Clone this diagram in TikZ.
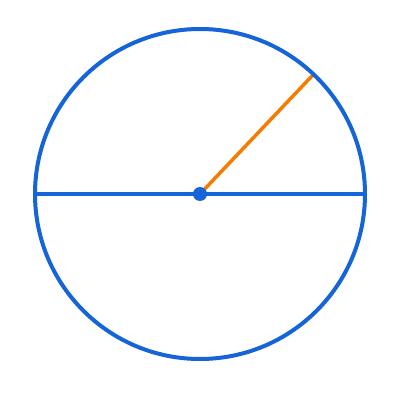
\documentclass[tikz,border=0pt]{standalone}
\usetikzlibrary{calc}
\definecolor{cblue}{HTML}{1565D8}
\definecolor{corange}{HTML}{F57C00}
\begin{document}
\begin{tikzpicture}[x=1pt,y=1pt,
  blueline/.style={draw=cblue,line width=4pt},
  orangeline/.style={draw=corange,line width=3.5pt}]
\useasboundingbox[fill=white] (0,0) rectangle (400,400);
\coordinate (O) at (200,206);
\coordinate (L) at (35,206);
\coordinate (R) at (365,206);
\coordinate (P) at ($(O)+(46.5:165)$);
\draw[orangeline] (O) -- (P);
\draw[blueline] (L) -- (R);
\draw[blueline] (O) circle (165);
\fill[cblue] (O) circle (7);
\end{tikzpicture}
\end{document}
